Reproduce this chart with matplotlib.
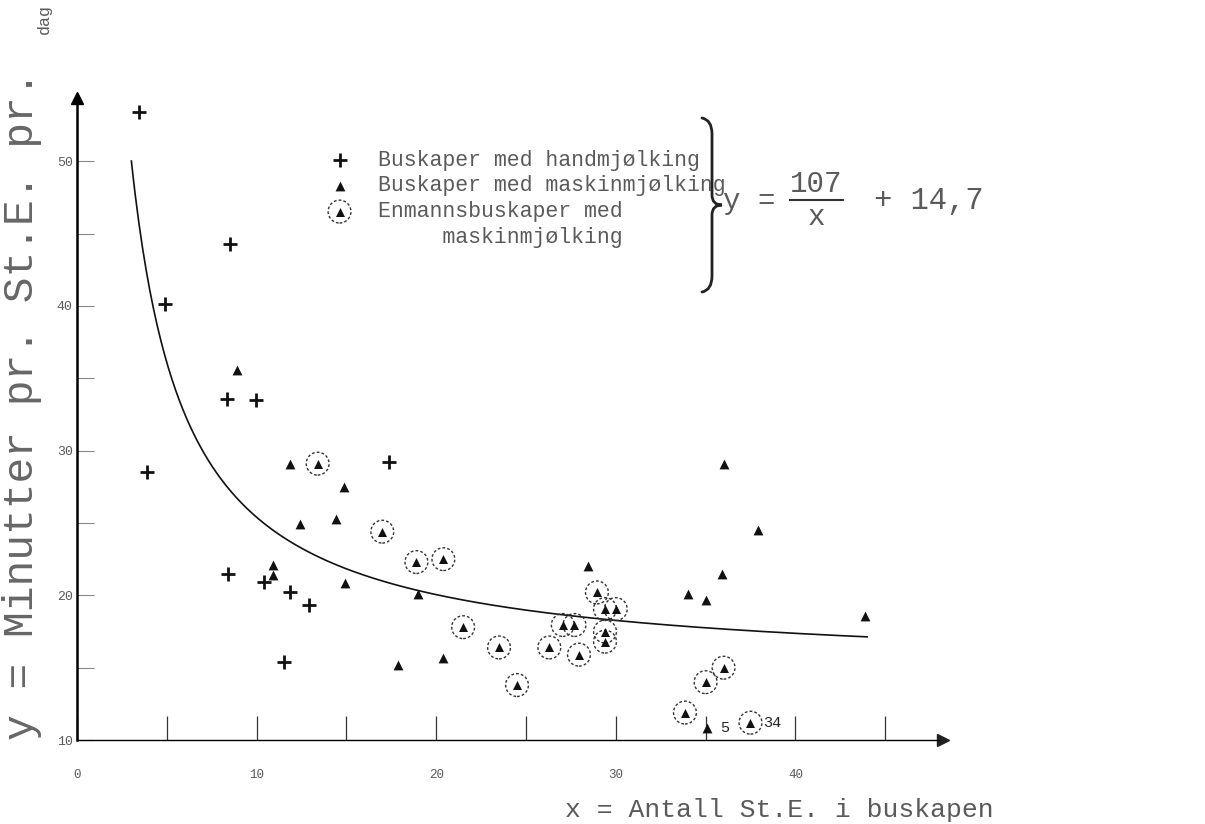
import matplotlib
matplotlib.use("Agg")
import matplotlib.pyplot as plt
import numpy as np
from matplotlib.path import Path
from matplotlib.patches import PathPatch
from matplotlib.lines import Line2D
from matplotlib.legend_handler import HandlerTuple

# herds with hand milking (+)
hand_x = [3.45, 8.5, 4.9, 8.35, 9.95, 3.9, 17.4, 8.4, 10.4, 11.85, 12.9, 11.5]
hand_y = [53.4, 44.3, 40.1, 33.6, 33.5, 28.5, 29.2, 21.5, 20.9, 20.2, 19.3, 15.4]

# herds with machine milking (filled triangle)
mach_x = [8.9, 11.85, 14.85, 12.4, 14.4, 10.9, 10.9, 14.9, 19.0, 17.9, 20.4,
          28.45, 36.0, 37.9, 35.9, 34.0, 35.0, 43.9, 35.1]
mach_y = [35.6, 29.1, 27.5, 24.9, 25.3, 22.1, 21.4, 20.85, 20.1, 15.2, 15.7,
          22.0, 29.1, 24.5, 21.5, 20.1, 19.7, 18.6, 10.8]

# one-man herds with machine milking (circled triangle)
one_x = [13.4, 17.0, 18.9, 20.4, 21.5, 23.5, 24.5, 26.3, 27.05, 27.7, 27.95,
         28.95, 29.4, 30.0, 29.4, 29.4, 33.85, 35.0, 36.0, 37.5]
one_y = [29.1, 24.4, 22.3, 22.5, 17.8, 16.4, 13.8, 16.4, 17.95, 17.95, 15.9,
         20.2, 19.05, 19.05, 17.5, 16.8, 11.9, 14.0, 15.0, 11.2]

# small numbers typed next to two points near the x axis
note_x = [35.1, 37.5]
note_y = [10.8, 11.2]
note_txt = ["5", "34"]

# fitted curve y = a/x + b
fit_a, fit_b = 107, 14.7
fit_xmin, fit_xmax = 3.03, 44.0

xticks = [0, 10, 20, 30, 40]
yticks = [10, 20, 30, 40, 50]

mono = ["Liberation Mono", "DejaVu Sans Mono"]
ink = "#5a5a5a"
W, H = 1205, 824

fig = plt.figure(figsize=(W / 100, H / 100), dpi=100)
ax = fig.add_axes([59 / W, 55 / H, 916 / W, 694.6 / H])
ax.set_xlim(-1, 50)
ax.set_ylim(8, 56)

for s in ("top", "right"):
    ax.spines[s].set_visible(False)
ax.spines["left"].set_position(("data", 0))
ax.spines["bottom"].set_position(("data", 10))
ax.spines["left"].set_bounds(10, 54.4)
ax.spines["bottom"].set_bounds(0, 48)
ax.spines["left"].set_linewidth(1.8)
ax.spines["bottom"].set_linewidth(1.0)
ax.spines["bottom"].set_linestyle((0, (4, 1)))
ax.plot([0], [54.4], marker="^", ms=9, color="k", clip_on=False)
ax.plot([48.2], [10], marker=">", ms=9, color="#222222", clip_on=False)

ax.set_xticks(xticks)
ax.set_xticks([5, 15, 25, 35, 45], minor=True)
ax.set_yticks(yticks)
ax.set_yticks([15, 25, 35, 45], minor=True)
ax.tick_params(axis="x", which="both", direction="in", length=17, width=0.9,
               color="#333333", pad=21, labelsize=9, labelcolor=ink)
ax.tick_params(axis="y", which="both", direction="in", length=12, width=0.8,
               color="#888888", pad=3, labelsize=9.5, labelcolor=ink)
for lab in ax.get_xticklabels() + ax.get_yticklabels():
    lab.set_family(mono)

# curve
xs = np.linspace(fit_xmin, fit_xmax, 400)
ax.plot(xs, fit_a / xs + fit_b, color="#111111", lw=1.2)

# points
h1 = ax.scatter(hand_x, hand_y, marker="+", s=100, linewidths=2.0,
                color="#111111", zorder=3)
h2 = ax.scatter(mach_x, mach_y, marker="^", s=50, color="#111111",
                linewidths=0, zorder=3)
h3c = ax.scatter(one_x, one_y, marker="o", s=270, facecolors="none",
                 edgecolors="#333333", linewidths=1.0, linestyles=(0, (2, 1.5)),
                 zorder=3)
h3t = ax.scatter(one_x, one_y, marker="^", s=42, color="#111111",
                 linewidths=0, zorder=4)
for nx, ny, nt in zip(note_x, note_y, note_txt):
    ax.annotate(nt, (nx, ny), xytext=(9, 0), textcoords="offset points",
                va="center", ha="left", fontsize=11, family=mono, color="#222222")

# legend
blank = Line2D([], [], linestyle="none")
leg = fig.legend([h1, h2, (h3c, h3t), blank],
                 ["Buskaper med handmjølking",
                  "Buskaper med maskinmjølking",
                  "Enmannsbuskaper med",
                  "     maskinmjølking"],
                 loc="upper left", bbox_to_anchor=(318 / W, 1 - 139 / H),
                 frameon=False, scatterpoints=1, handlelength=1.0,
                 handletextpad=1.3, labelspacing=0.22, borderpad=0,
                 prop={"family": mono, "size": 15.5},
                 handler_map={tuple: HandlerTuple(ndivide=1, pad=0)})
for t in leg.get_texts():
    t.set_color(ink)


# curly brace
def brace(x0, ytop, ybot, w):
    ym = (ytop + ybot) / 2
    xm = x0 + w / 2
    verts = [(x0, ytop), (xm, ytop + 2), (xm, ytop + 16),
             (xm, ym - 10),
             (xm, ym), (x0 + w, ym),
             (xm, ym), (xm, ym + 10),
             (xm, ybot - 16),
             (xm, ybot - 2), (x0, ybot)]
    codes = [Path.MOVETO, Path.CURVE3, Path.CURVE3, Path.LINETO,
             Path.CURVE3, Path.CURVE3, Path.CURVE3, Path.CURVE3,
             Path.LINETO, Path.CURVE3, Path.CURVE3]
    verts = [(vx / W, 1 - vy / H) for vx, vy in verts]
    return PathPatch(Path(verts, codes), transform=fig.transFigure,
                     fill=False, lw=2.0, color="#222222", capstyle="round")


fig.add_artist(brace(702, 118, 292, 20))

# equation
fs_eq = 21
fig.text(723 / W, 1 - 201 / H, "y =", family=mono, fontsize=fs_eq,
         color=ink, va="center", ha="left")
fig.text(816 / W, 1 - 184 / H, str(fit_a), family=mono, fontsize=fs_eq,
         color=ink, va="center", ha="center")
fig.add_artist(Line2D([790 / W, 843 / W], [1 - 200 / H, 1 - 200 / H],
                      transform=fig.transFigure, color="#333333", lw=1.5))
fig.text(816 / W, 1 - 217 / H, "x", family=mono, fontsize=fs_eq,
         color=ink, va="center", ha="center")
fig.text(874 / W, 1 - 201 / H, "+ " + str(fit_b).replace(".", ","),
         family=mono, fontsize=22, color=ink, va="center", ha="left")

# axis titles
fig.text(22 / W, 1 - 740 / H, "y = Minutter pr. St.E. pr.", rotation=90,
         ha="center", va="bottom", family=mono, fontsize=31, color="#666666")
fig.text(44 / W, 1 - 4 / H, "dag", rotation=90, ha="center", va="top",
         family=mono, fontsize=12, color=ink)
fig.text(565 / W, 1 - 810 / H, "x = Antall St.E. i buskapen", ha="left",
         va="center", family=mono, fontsize=19, color=ink)

fig.savefig("out.png", dpi=100, facecolor="white")
